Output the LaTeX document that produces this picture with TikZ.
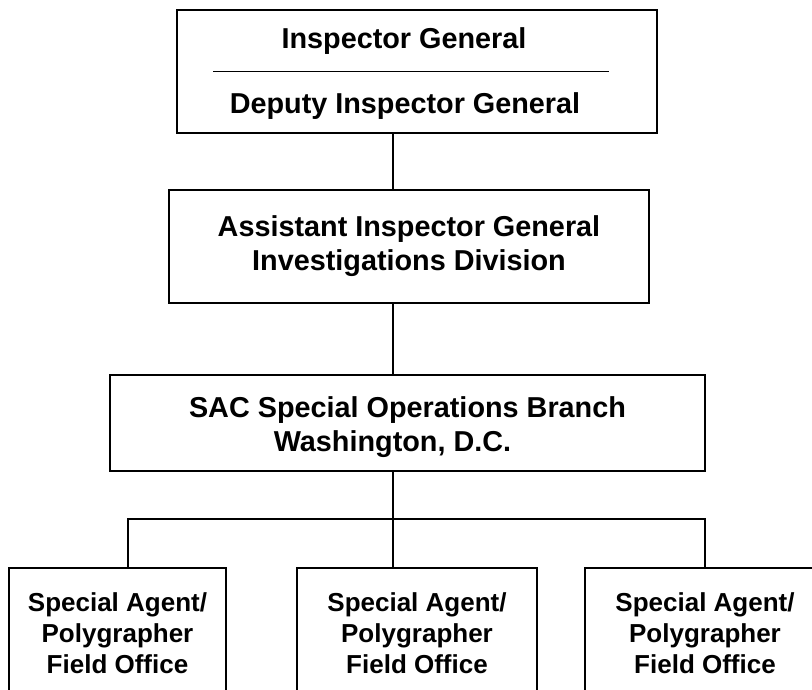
\documentclass[tikz,border=0pt]{standalone}
\usepackage{fontspec}
\setmainfont{Liberation Sans}
\begin{document}
\begin{tikzpicture}[x=1pt,y=-1pt,
  orgbox/.style={draw, line width=1.4pt, inner sep=0pt, align=center,
    font=\fontsize{28.8}{34}\selectfont\bfseries},
  fieldbox/.style={orgbox, font=\fontsize{26}{31}\selectfont\bfseries,
    minimum width=#1, minimum height=131pt},
  chiefline/.style={inner sep=0pt, anchor=base, font=\fontsize{28.8}{34}\selectfont\bfseries},
  link/.style={line width=1.2pt}]
  \clip (0,0) rectangle (812,689);
  \node[orgbox, minimum width=480pt, minimum height=123pt] (ig) at (417,71.5) {};
  \node[chiefline] (igname) at (404,48) {Inspector General};
  \node[chiefline] (dig) at (405,113) {Deputy Inspector General};
  \draw[line width=0.9pt] (213,71) -- (609,71);
  \node[orgbox, minimum width=480pt, minimum height=113pt] (aig) at (409,246.5)
    {Assistant Inspector General\\Investigations Division};
  \node[orgbox, minimum width=595pt, minimum height=96pt] (sac) at (407.5,423)
    {\rule{0pt}{29pt}SAC Special Operations Branch\\Washington, D.C.\makebox[30pt]{}};
  \node[fieldbox=217pt] (fo1) at (117.5,633.5) {Special Agent/\\Polygrapher\\Field Office};
  \node[fieldbox=240pt] (fo2) at (417,633.5) {Special Agent/\\Polygrapher\\Field Office};
  \node[fieldbox=240pt] (fo3) at (705,633.5) {Special Agent/\\Polygrapher\\Field Office};
  \coordinate (bar) at (393,519);
  \coordinate (barL) at (128,519);
  \coordinate (barR) at (705,519);
  \begin{scope}[link]
    \draw (ig.south -| bar) -- (aig.north -| bar);
    \draw (aig.south -| bar) -- (sac.north -| bar);
    \draw (sac.south -| bar) -- (bar |- fo2.north);
    \draw (barL |- fo1.north) -- (barL) -- (barR) -- (fo3.north);
  \end{scope}
\end{tikzpicture}
\end{document}
